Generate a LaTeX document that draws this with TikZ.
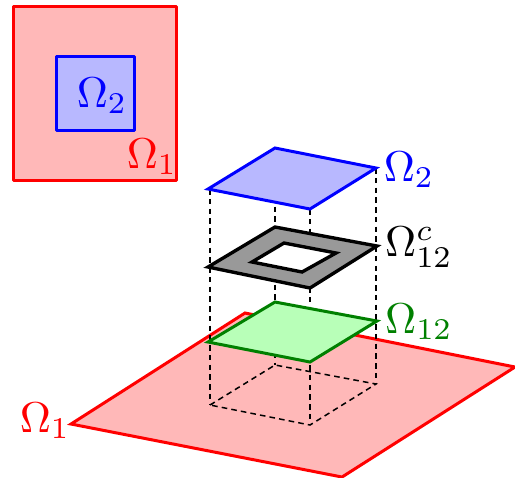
\documentclass[tikz,border=0pt]{standalone}
\usepackage{tikz}

\begin{document}
\begin{tikzpicture}[
    x=0.2667pt, y=-0.2667pt,
    sheetA/.style={draw=red, fill=red!28, line width=0.8pt},
    sheetB/.style={draw=blue, fill=blue!28, line width=0.8pt},
    sheetC/.style={draw=green!50!black, fill=green!28, line width=0.8pt},
    ring/.style={draw=black, line width=0.9pt},
    guide/.style={dash pattern=on 1.5pt off 1.1pt, line width=0.4pt},
    lab/.style={scale=1.15}
]
    \useasboundingbox (0,0) rectangle (515,477);

    % small picture, top left
    \coordinate (sqA1) at (13.5,6.5);
    \coordinate (sqA2) at (176.5,180);
    \coordinate (sqB1) at (56.5,56.5);
    \coordinate (sqB2) at (134,130);
    \draw[sheetA, line join=round] (sqA1) rectangle (sqA2);
    \draw[sheetB, line join=round] (sqB1) rectangle (sqB2);
    \node[lab, blue] (labB) at (102,96) {$\Omega_2$};
    \node[lab, red] (labA) at (152,157) {$\Omega_1$};

    % corners of the layers
    \coordinate (A1) at (71,424);
    \coordinate (A2) at (245,313);
    \coordinate (A3) at (515,367);
    \coordinate (A4) at (342,477);

    \coordinate (F1) at (210,405);
    \coordinate (F2) at (275,365);
    \coordinate (F3) at (376,384);
    \coordinate (F4) at (310,425);

    \coordinate (G1) at (208,342);
    \coordinate (G2) at (275,302);
    \coordinate (G3) at (377,321);
    \coordinate (G4) at (310,362);

    \coordinate (K1) at (208,267);
    \coordinate (K2) at (275,227);
    \coordinate (K3) at (377,246);
    \coordinate (K4) at (310,288);

    \coordinate (H1) at (252,262);
    \coordinate (H2) at (284,243);
    \coordinate (H3) at (336,253);
    \coordinate (H4) at (302,272);

    \coordinate (B1) at (208,189);
    \coordinate (B2) at (275,148);
    \coordinate (B3) at (376,168);
    \coordinate (B4) at (310,209);

    % bottom sheet
    \draw[sheetA] (A1) -- (A2) -- (A3) -- (A4) -- cycle;

    % dashed box
    \draw[guide] (F1) -- (F2) -- (F3) -- (F4) -- cycle;
    \foreach \p in {1,2,3,4}
        \draw[guide] (F\p |- B\p) -- (F\p);

    % layers
    \draw[sheetC] (G1) -- (G2) -- (G3) -- (G4) -- cycle;
    \draw[ring, fill=black!40] (K1) -- (K2) -- (K3) -- (K4) -- cycle;
    \draw[ring, fill=white] (H1) -- (H2) -- (H3) -- (H4) -- cycle;
    \draw[sheetB] (B1) -- (B2) -- (B3) -- (B4) -- cycle;

    % labels
    \node[lab, blue] (labB2) at (409,170) {$\Omega_2$};
    \node[lab] (labK) at (419,247) {$\Omega_{12}^c$};
    \node[lab, green!50!black] (labG) at (419,322) {$\Omega_{12}$};
    \node[lab, red] (labA2) at (45,421) {$\Omega_1$};
\end{tikzpicture}
\end{document}
